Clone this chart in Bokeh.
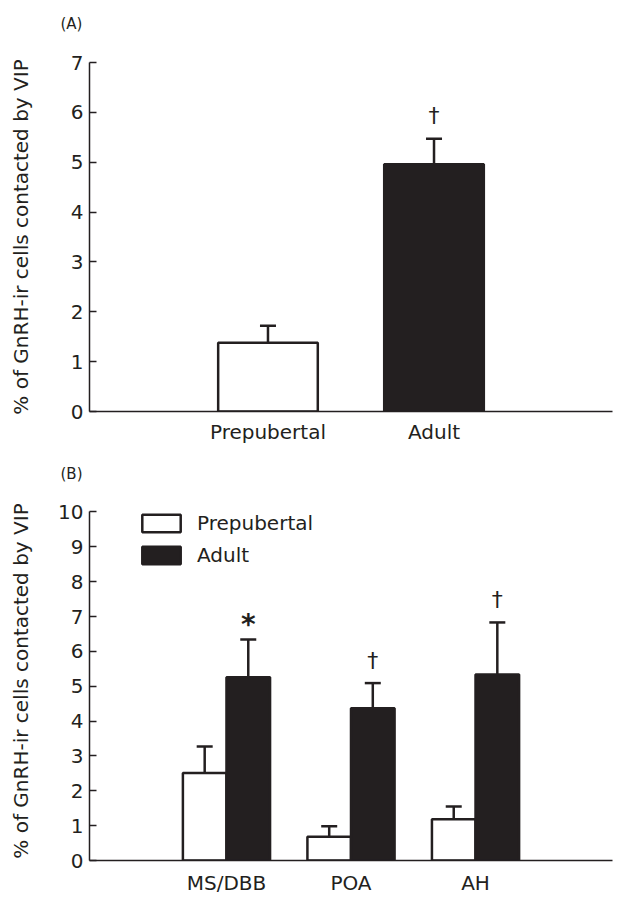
from bokeh.plotting import figure
from bokeh.models import (FactorRange, Range1d, FixedTicker, ColumnDataSource,
                          Whisker, TeeHead, Title)
from bokeh.layouts import column
from bokeh.transform import dodge
from bokeh.core.properties import value
from bokeh.embed import file_html
from bokeh.resources import INLINE

# ---------------- data ----------------
groups_a = ["Prepubertal", "Adult"]
mean_a = [1.38, 4.96]
sem_a = [0.34, 0.51]
sig_a = ["", "†"]

regions_b = ["MS/DBB", "POA", "AH"]
prepub_mean_b = [2.51, 0.68, 1.18]
prepub_sem_b = [0.76, 0.30, 0.37]
adult_mean_b = [5.26, 4.37, 5.34]
adult_sem_b = [1.08, 0.72, 1.49]
sig_b = ["*", "†", "†"]

yticks_a = list(range(0, 8))
yticks_b = list(range(0, 11))
y_label = "% of GnRH-ir cells contacted by VIP"
series_labels = ["Prepubertal", "Adult"]
panel_tags = ["(A)", "(B)"]

# ---------------- style ----------------
INK = "#231f20"
FONT = "DejaVu Sans"
FS = "20px"
W = 624
HEAD_H = 40
sig_style = {"*": ("28px", -15, "bold"), "†": ("22px", -23, "normal"),
             "": ("20px", 0, "normal")}


def header(text, top_border):
    h = figure(width=W, height=HEAD_H, x_range=Range1d(0, 1),
               y_range=Range1d(0, 1), x_axis_type=None, y_axis_type=None,
               output_backend="svg", toolbar_location=None,
               min_border_left=89, min_border_right=12,
               min_border_top=top_border, min_border_bottom=0)
    h.outline_line_color = None
    h.xgrid.visible = False
    h.ygrid.visible = False
    t = Title(text=text, align="left", offset=-29, text_font=FONT,
              text_font_size="15px", text_font_style="normal", text_color=INK)
    if "standoff" in Title.properties():
        t.standoff = 4
    h.add_layout(t, "above")
    return h


def style(p, ticks, label_standoff, xstandoff):
    p.outline_line_color = None
    p.xgrid.visible = False
    p.ygrid.visible = False
    p.background_fill_color = "white"
    p.border_fill_color = "white"
    for ax in (p.xaxis[0], p.yaxis[0]):
        ax.axis_line_color = INK
        ax.axis_line_width = 1.5
        ax.major_label_text_font = FONT
        ax.major_label_text_font_size = FS
        ax.major_label_text_color = INK
        ax.minor_tick_line_color = None
    p.xaxis.major_tick_line_color = None
    p.xaxis.major_tick_in = 0
    p.xaxis.major_tick_out = 0
    p.xaxis.major_label_standoff = xstandoff
    p.yaxis.ticker = FixedTicker(ticks=ticks)
    p.yaxis.bounds = (min(ticks), max(ticks))
    p.yaxis.major_tick_in = 7
    p.yaxis.major_tick_out = 0
    p.yaxis.major_tick_line_width = 1.5
    p.yaxis.major_tick_line_color = INK
    p.yaxis.major_label_standoff = 6
    p.yaxis.axis_label = y_label
    p.yaxis.axis_label_text_font = FONT
    p.yaxis.axis_label_text_font_size = FS
    p.yaxis.axis_label_text_font_style = "normal"
    p.yaxis.axis_label_text_color = INK
    p.yaxis.axis_label_standoff = label_standoff


def sig_cols(sig):
    return dict(sig=sig,
                sfs=[sig_style[s][0] for s in sig],
                soff=[sig_style[s][1] for s in sig],
                sst=[sig_style[s][2] for s in sig])


# ---------------- panel A ----------------
head_a = header(panel_tags[0], 34)
pa = figure(width=W, height=448 - HEAD_H,
            x_range=FactorRange(factors=groups_a, range_padding=0.575,
                                range_padding_units="absolute"),
            y_range=Range1d(0, max(yticks_a)),
            output_backend="svg", toolbar_location=None,
            min_border_left=89, min_border_right=12,
            min_border_top=62 - HEAD_H, min_border_bottom=37)
style(pa, yticks_a, 35, 8)

src_a = ColumnDataSource(dict(
    x=groups_a, top=mean_a,
    upper=[m + s for m, s in zip(mean_a, sem_a)],
    fill=["white", INK],
    **sig_cols(sig_a)))
pa.vbar(x="x", top="top", width=0.6, fill_color="fill", line_color=INK,
        line_width=2.5, source=src_a)
pa.add_layout(Whisker(base="x", lower="top", upper="upper", source=src_a,
                      line_color=INK, line_width=2.5, lower_head=None,
                      upper_head=TeeHead(size=16, line_width=2.5, line_color=INK)))
pa.text(x="x", y="upper", text="sig", source=src_a, text_font=value(FONT),
        text_font_size="sfs", text_font_style="sst", y_offset="soff",
        text_align="center", text_baseline="alphabetic", text_color=INK)

# ---------------- panel B ----------------
head_b = header(panel_tags[1], 36)
pb = figure(width=W, height=454 - HEAD_H,
            x_range=FactorRange(factors=regions_b, range_padding=0.6,
                                range_padding_units="absolute"),
            y_range=Range1d(0, max(yticks_b) + 0.3),
            output_backend="svg", toolbar_location=None,
            min_border_left=89, min_border_right=12,
            min_border_top=53 - HEAD_H, min_border_bottom=42)
style(pb, yticks_b, 22, 10)

src_b = ColumnDataSource(dict(
    region=regions_b,
    pm=prepub_mean_b, pu=[m + s for m, s in zip(prepub_mean_b, prepub_sem_b)],
    am=adult_mean_b, au=[m + s for m, s in zip(adult_mean_b, adult_sem_b)],
    **sig_cols(sig_b)))
DX = 0.175
pb.vbar(x=dodge("region", -DX, range=pb.x_range), top="pm", width=0.35,
        fill_color="white", line_color=INK, line_width=2.5,
        legend_label=series_labels[0], source=src_b)
pb.vbar(x=dodge("region", DX, range=pb.x_range), top="am", width=0.35,
        fill_color=INK, line_color=INK, line_width=2.5,
        legend_label=series_labels[1], source=src_b)
for off, lo, up in ((-DX, "pm", "pu"), (DX, "am", "au")):
    pb.add_layout(Whisker(base=dodge("region", off, range=pb.x_range),
                          lower=lo, upper=up, source=src_b,
                          line_color=INK, line_width=2.5, lower_head=None,
                          upper_head=TeeHead(size=16, line_width=2.5, line_color=INK)))
pb.text(x=dodge("region", DX, range=pb.x_range), y="au", text="sig", source=src_b,
        text_font=value(FONT), text_font_size="sfs", text_font_style="sst",
        y_offset="soff", text_align="center", text_baseline="alphabetic",
        text_color=INK)

lg = pb.legend[0]
lg.location = (48, 293)
lg.glyph_width = 48
lg.glyph_height = 22
lg.label_height = 22
lg.label_standoff = 12
lg.spacing = 8
lg.padding = 0
lg.margin = 0
lg.border_line_color = None
lg.background_fill_alpha = 0
lg.label_text_font = FONT
lg.label_text_font_size = FS
lg.label_text_color = INK

layout = column(head_a, pa, head_b, pb, spacing=0)
open("out.html", "w").write(file_html(layout, INLINE))
